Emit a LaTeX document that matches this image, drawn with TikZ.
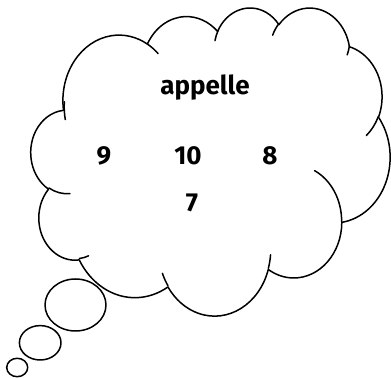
\documentclass[tikz,border=0pt]{standalone}
\usepackage{fontspec}
\setmainfont{Fira Sans}
\newcommand\mkarc[5]{%
  \pgfmathsetmacro\tmpa{atan2((#2)*sin(#4),(#3)*cos(#4))}%
  \pgfmathsetmacro\tmpb{atan2((#2)*sin((#4)+(#5)),(#3)*cos((#4)+(#5)))}%
  \pgfmathsetmacro\tmpd{mod((\tmpb)-(\tmpa)+720,360)}%
  \edef\tmpnext{\noexpand\tikzset{#1/.style={start angle=\tmpa,delta angle=\tmpd,x radius=#2,y radius=#3}}}%
  \tmpnext}
\tikzset{
  cloudline/.style={line width=1.5pt, line join=round, line cap=round, black},
  lbl/.style={font=\fontsize{26}{30}\selectfont\bfseries, inner sep=0pt, anchor=base}
}
\begin{document}
\begin{tikzpicture}
\fill[white] (0,0) rectangle (391pt,379pt);
\useasboundingbox (0,0) rectangle (391pt,379pt);
% main outline arcs (visual angles converted to parametric)
\mkarc{ma}{67.53}{91.90}{-190.4875}{123.7805}
\mkarc{mb}{53.33}{72.67}{-144.1024}{89.9452}
\mkarc{mc}{43.65}{59.45}{-145.8079}{99.7230}
\mkarc{md}{48.57}{65.95}{-130.9861}{117.2417}
\mkarc{me}{53.33}{72.73}{-78.7089}{109.0269}
\mkarc{mf}{67.75}{92.20}{-46.2673}{130.2690}
\mkarc{mg}{57.85}{78.67}{0.6250}{114.0333}
\mkarc{mh}{67.52}{92.15}{22.4516}{115.1726}
\mkarc{mi}{77.20}{105.43}{66.2426}{75.7110}
\mkarc{mj}{43.60}{59.18}{-274.9421}{146.7356}
\mkarc{mk}{43.45}{59.45}{-246.8285}{152.5189}
% inner tails
\mkarc{ta}{43.45}{59.45}{86.7420}{26.4295}
\mkarc{tb}{43.60}{59.18}{73.6105}{11.4475}
\mkarc{tc}{67.52}{92.15}{137.6242}{14.0811}
\mkarc{td}{67.52}{92.15}{6.4533}{15.9984}
\mkarc{te}{57.85}{78.67}{-70.2924}{70.9174}
\mkarc{tf}{53.33}{72.73}{30.3180}{27.7515}
\mkarc{tg}{48.57}{65.95}{13.7443}{14.8589}
\mkarc{th}{48.57}{65.95}{-149.1815}{18.1954}
\mkarc{ti}{43.65}{59.45}{-163.4943}{17.6864}
\mkarc{tj}{67.53}{91.90}{-66.7070}{12.3194}
\mkarc{tk}{67.53}{91.90}{164.6817}{21.2415}
\begin{scope}[shift={(31pt,372pt)}, x={(0.831pt,0pt)}, y={(0pt,-0.713pt)}]
  \coordinate (c0) at (39,143.7);
  \draw[cloudline, fill=white] (c0) arc[ma] arc[mb] arc[mc] arc[md] arc[me] arc[mf]
        arc[mg] arc[mh] arc[mi] arc[mj] arc[mk] -- cycle;
  \coordinate (ta0) at (46.93,261.77);
  \coordinate (tb0) at (69.28,348.99);
  \coordinate (tc0) at (164.78,390.90);
  \coordinate (td0) at (288.27,347.51);
  \coordinate (te0) at (341.29,229.54);
  \coordinate (tf0) at (417.98,153.54);
  \coordinate (tg0) at (383.24,54.26);
  \coordinate (th0) at (290.78,39.52);
  \coordinate (ti0) at (221.41,47.20);
  \coordinate (tj0) at (140.00,51.92);
  \coordinate (tk0) at (41.27,157.89);
  \draw[cloudline] (ta0) arc[ta] (tb0) arc[tb] (tc0) arc[tc] (td0) arc[td]
        (te0) arc[te] (tf0) arc[tf] (tg0) arc[tg] (th0) arc[th]
        (ti0) arc[ti] (tj0) arc[tj] (tk0) arc[tk];
\end{scope}
\begin{scope}[shift={(0pt,379pt)}, x={(1pt,0pt)}, y={(0pt,-1pt)}]
  \draw[cloudline, fill=white] (75.5,305) ellipse [x radius=30.5pt, y radius=26pt];
  \draw[cloudline, fill=white] (40.2,342.8) ellipse [x radius=20.8pt, y radius=17.2pt];
  \draw[cloudline, fill=white] (17.2,367.5) ellipse [x radius=10.5pt, y radius=9.2pt];
  \node[lbl] (word) at (205,95) {appelle};
  \node[lbl] (n9) at (104,165) {9};
  \node[lbl] (n10) at (188,165) {10};
  \node[lbl] (n8) at (270,165) {8};
  \node[lbl] (n7) at (192,212) {7};
\end{scope}
\end{tikzpicture}
\end{document}
